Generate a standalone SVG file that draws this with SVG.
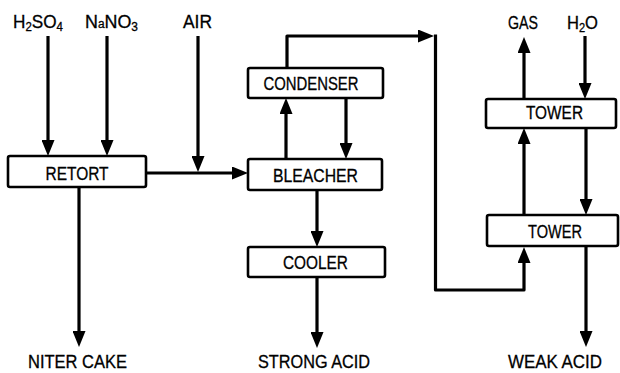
<svg xmlns="http://www.w3.org/2000/svg" width="620" height="373" viewBox="0 0 620 373">
<defs>
<style>
.box{fill:#fff;stroke:#000;stroke-width:2.6}
.ln{fill:none;stroke:#000;stroke-width:3.2;stroke-linejoin:round}
.ar{marker-end:url(#ah)}
text{font-family:"Liberation Sans",Arial,sans-serif;font-size:18px;fill:#000;text-anchor:middle;stroke:#000;stroke-width:0.3}
.sub{font-size:12px}
</style>
<marker id="ah" markerUnits="userSpaceOnUse" markerWidth="16" markerHeight="13" viewBox="0 0 16 13" refX="8" refY="6.5" orient="auto">
<path d="M0,0 L16,6.5 L0,13 z" fill="#000"/>
</marker>
</defs>
<rect width="620" height="373" fill="#fff"/>
<g id="connectors">
<path class="ln ar" d="M48,36 V148"/>
<path class="ln ar" d="M107,36 V148"/>
<path class="ln ar" d="M198,36 V164"/>
<path class="ln ar" d="M146,173 H240"/>
<path class="ln ar" d="M79,187 V339"/>
<path class="ln ar" d="M286,159 V106"/>
<path class="ln ar" d="M346,98 V151"/>
<path class="ln ar" d="M287,68 V36 H426"/>
<path class="ln ar" d="M435.5,34.5 V290 H524 V255"/>
<path class="ln ar" d="M317,190 V239"/>
<path class="ln ar" d="M317,277 V340"/>
<path class="ln ar" d="M524,215 V136"/>
<path class="ln ar" d="M524,99 V45"/>
<path class="ln ar" d="M585,36 V91"/>
<path class="ln ar" d="M586,128 V207"/>
<path class="ln ar" d="M586,246 V339"/>
</g>
<g id="in-h2so4"><text x="38" y="28" textLength="50" lengthAdjust="spacingAndGlyphs">H<tspan class="sub" dy="3">2</tspan><tspan dy="-3">SO</tspan><tspan class="sub" dy="3">4</tspan></text></g>
<g id="in-nano3"><text x="111.5" y="28" textLength="53" lengthAdjust="spacingAndGlyphs">N<tspan class="sub">a</tspan>NO<tspan class="sub" dy="3">3</tspan></text></g>
<g id="in-air"><text x="197.5" y="28" textLength="29" lengthAdjust="spacingAndGlyphs">AIR</text></g>
<g id="out-gas"><text x="523" y="29" textLength="30" lengthAdjust="spacingAndGlyphs">GAS</text></g>
<g id="in-h2o"><text x="582.5" y="29" textLength="31" lengthAdjust="spacingAndGlyphs">H<tspan class="sub" dy="3">2</tspan><tspan dy="-3">O</tspan></text></g>
<g id="retort"><rect class="box" x="8" y="156" width="138" height="31" rx="2"/><text x="77" y="180" textLength="63" lengthAdjust="spacingAndGlyphs">RETORT</text></g>
<g id="condenser"><rect class="box" x="248" y="68" width="135" height="30" rx="2"/><text x="311" y="90" textLength="95" lengthAdjust="spacingAndGlyphs">CONDENSER</text></g>
<g id="bleacher"><rect class="box" x="248" y="159" width="134" height="31" rx="2"/><text x="315.5" y="182" textLength="85" lengthAdjust="spacingAndGlyphs">BLEACHER</text></g>
<g id="cooler"><rect class="box" x="248" y="247" width="137" height="30" rx="2"/><text x="315.5" y="269" textLength="65" lengthAdjust="spacingAndGlyphs">COOLER</text></g>
<g id="tower-upper"><rect class="box" x="486" y="99" width="130" height="29" rx="2"/><text x="554.5" y="119" textLength="57" lengthAdjust="spacingAndGlyphs">TOWER</text></g>
<g id="tower-lower"><rect class="box" x="487" y="215" width="131" height="31" rx="2"/><text x="555" y="238" textLength="54" lengthAdjust="spacingAndGlyphs">TOWER</text></g>
<g id="out-niter-cake"><text x="77.5" y="368" textLength="99" lengthAdjust="spacingAndGlyphs">NITER CAKE</text></g>
<g id="out-strong-acid"><text x="314" y="368" textLength="112" lengthAdjust="spacingAndGlyphs">STRONG ACID</text></g>
<g id="out-weak-acid"><text x="555" y="368" textLength="94" lengthAdjust="spacingAndGlyphs">WEAK ACID</text></g>
</svg>
